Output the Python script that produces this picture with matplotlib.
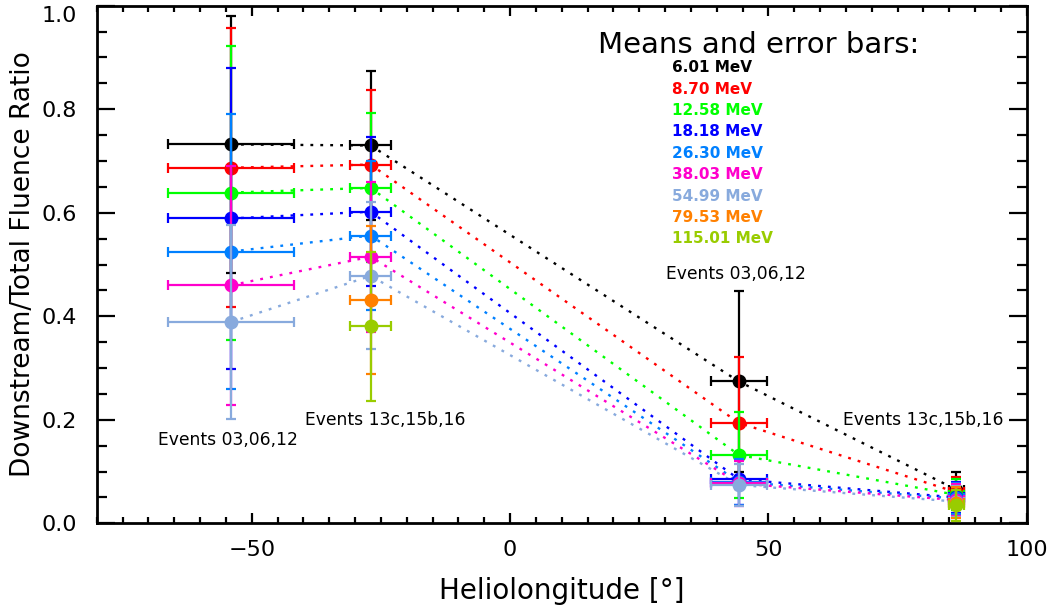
import numpy as np
import matplotlib
matplotlib.use("Agg")
import matplotlib.pyplot as plt

# energy channels and colours
energies = ["6.01", "8.70", "12.58", "18.18", "26.30", "38.03", "54.99", "79.53", "115.01"]
colors = ["#000000", "#ff0000", "#00ff00", "#0000ff", "#0080ff",
          "#ff00cc", "#88aadd", "#ff8000", "#99cc00"]

# heliolongitude of each event group and its spread
group_x = [-54.0, -27.0, 44.3, 86.4]
group_xerr = [12.2, 4.05, 5.5, 1.4]

# mean downstream/total ratio per energy for each group, nan = no data
left_y = [0.732, 0.687, 0.639, 0.589, 0.525, 0.460, 0.389, np.nan, np.nan]
left_err = [0.248, 0.270, 0.284, 0.290, 0.266, 0.231, 0.187, np.nan, np.nan]
mid_y = [0.730, 0.693, 0.648, 0.602, 0.556, 0.515, 0.478, 0.431, 0.381]
mid_err = [0.144, 0.144, 0.144, 0.144, 0.144, 0.145, 0.142, 0.143, 0.144]
r1_y = [0.274, 0.194, 0.132, 0.085, 0.080, 0.077, 0.074, np.nan, np.nan]
r1_err = [0.175, 0.127, 0.083, 0.050, 0.045, 0.043, 0.040, np.nan, np.nan]
r2_y = [0.065, 0.060, 0.055, 0.050, 0.048, 0.045, 0.042, 0.040, 0.035]
r2_err = [0.035, 0.030, 0.030, 0.030, 0.030, 0.030, 0.030, 0.030, 0.030]

group_labels = ["Events 03,06,12", "Events 13c,15b,16", "Events 03,06,12", "Events 13c,15b,16"]
label_pos = [(-54.6, 0.161), (-24.2, 0.200), (43.8, 0.482), (79.9, 0.200)]

plt.rcParams['font.family'] = ['DejaVu Sans']

fig = plt.figure(figsize=(10.55, 6.13), dpi=100)
ax = fig.add_axes([0.0917, 0.1463, 0.8815, 0.8444])

ys = [left_y, mid_y, r1_y, r2_y]
errs = [left_err, mid_err, r1_err, r2_err]

for i, c in enumerate(colors):
    yy = np.array([g[i] for g in ys])
    ee = np.array([g[i] for g in errs])
    ok = ~np.isnan(yy)
    xx = np.array(group_x)[ok]
    # dotted line joining the means (only channels with all groups)
    if ok.all():
        ax.plot(xx, yy[ok], color=c, lw=1.7, ls=(0, (1.2, 3.0)), zorder=2 + i * 0.1)
    ax.errorbar(xx, yy[ok], yerr=ee[ok], xerr=np.array(group_xerr)[ok],
                fmt='o', color=c, ms=9, elinewidth=1.6, capsize=3.5,
                capthick=1.6, zorder=3 + i * 0.1)

for txt, (tx, ty) in zip(group_labels, label_pos):
    ax.text(tx, ty, txt, ha='center', va='center', fontsize=12.3)

ax.text(17.0, 0.924, "Means and error bars:", ha='left', va='center', fontsize=21)
for i, (e, c) in enumerate(zip(energies, colors)):
    ax.text(31.4, 0.880 - i * 0.0413, e + " MeV", color=c, ha='left', va='center',
            fontsize=11, fontweight='semibold')

ax.set_xlim(-80, 100)
ax.set_ylim(0, 1.0)
ax.set_xticks([-50, 0, 50, 100])
ax.set_xticks(np.arange(-80, 101, 5), minor=True)
ax.set_yticks([0.0, 0.2, 0.4, 0.6, 0.8, 1.0])
ax.set_yticks(np.arange(0, 1.001, 0.05), minor=True)
ax.set_yticklabels(["0.0", "0.2", "0.4", "0.6", "0.8", "1.0"])
ax.set_xticklabels(["\u221250", "0", "50", "100"])
ax.get_yticklabels()[-1].set_va('top')

ax.tick_params(which='both', direction='in', top=True, right=True, width=1.6)
ax.tick_params(axis='x', which='major', length=7.5, pad=12, labelsize=16)
ax.tick_params(axis='x', which='minor', length=4)
ax.tick_params(axis='y', which='major', length=13, pad=14, labelsize=16)
ax.tick_params(axis='y', which='minor', length=7)
for s in ax.spines.values():
    s.set_linewidth(2)

ax.set_xlabel("Heliolongitude [\u00b0]", fontsize=20, labelpad=12)
ax.set_ylabel("Downstream/Total Fluence Ratio", fontsize=19, labelpad=4)

fig.savefig("out.png", dpi=100)
